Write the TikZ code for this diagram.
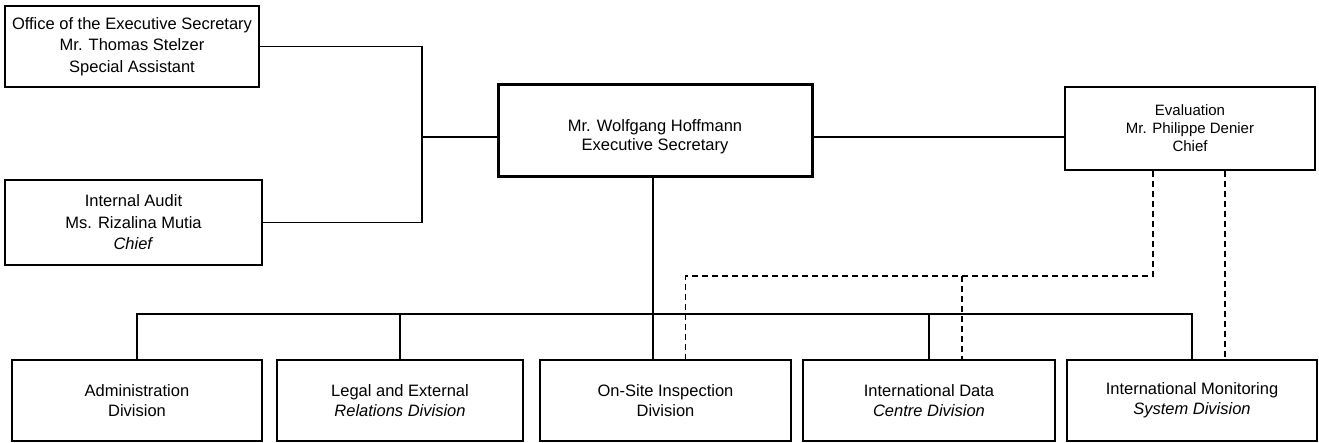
\documentclass[tikz,border=0pt]{standalone}
\usepackage{fontspec}
\setmainfont{Liberation Sans}
\usetikzlibrary{calc}
\tikzset{ b/.style = { rectangle % box
        , draw
        , line width = 2.2pt
        , align = center
        , inner sep = 0pt
        , font = \fontsize{16.5}{21.5}\selectfont
        }
        , bb/.style = { b % bottom row box
        , minimum height = 81pt
        , font = \fontsize{16.5}{20}\selectfont
        }
        , t/.style = { align = center % text only
        , inner sep = 0pt
        , font = \fontsize{16.5}{19}\selectfont
        }
        }

\begin{document}
\begin{tikzpicture}[x=1pt, y=-1pt,
        edge_style/.style={draw=black, line width=1.3pt},
        dashed_edge_style/.style={draw=black, line width=1.6pt, dash pattern=on 6pt off 4pt}]
        \useasboundingbox (0,0) rectangle (1319,443);

        \node [b, minimum width=254pt, minimum height=81pt](office) at (132,46.5) {Office of the Executive Secretary\\Mr. Thomas Stelzer\\Special Assistant};
        \node [b, minimum width=257pt, minimum height=85pt](audit) at (133.5,222.5) {Internal Audit\\Ms. Rizalina Mutia\\\textit{Chief}};
        \node [b, line width=3pt, minimum width=314pt, minimum height=92pt](es) at (655,131) {};
        \node [t](es_text) at ([yshift=-6pt]es.center) {Mr. Wolfgang Hoffmann\\Executive Secretary};
        \node [b, minimum width=250pt, minimum height=83pt, font=\fontsize{15}{18}\selectfont](ev) at (1190,128.5) {Evaluation\\Mr. Philippe Denier\\Chief};

        \node [bb, minimum width=250pt](adm) at (137,400.5) {Administration\\Division};
        \node [bb, minimum width=246pt](leg) at (400,400.5) {Legal and External\\\textit{Relations Division}};
        \node [bb, minimum width=251pt](osi) at (665.5,400.5) {On-Site Inspection\\Division};
        \node [bb, minimum width=252pt](idc) at (929,400.5) {International Data\\\textit{Centre Division}};
        \node [bb, minimum width=250pt](ims) at (1192,400.5) {International Monitoring\\\textit{System Division}};

        \coordinate (spine) at (422,137);
        \coordinate (bus) at (0,314);
        \coordinate (dbus) at (0,276);

        \draw [edge_style] (office.east) -| (spine) |- (audit.east);
        \draw [edge_style] (spine) -- (es.west |- spine);
        \draw [edge_style] (es.east |- spine) -- (ev.west |- spine);
        \draw [edge_style] ([xshift=-2pt]es.south) -- ([xshift=-2pt]es.south |- osi.north);
        \draw [edge_style] (adm.north) |- (ims.north |- bus) -- (ims.north);
        \foreach \n in {leg, idc}
            \draw [edge_style] (\n.north) -- (\n.north |- bus);

        \coordinate (evl) at ([xshift=-37pt]ev.south);
        \coordinate (evr) at ([xshift=35pt]ev.south);
        \coordinate (osid) at ([xshift=20pt]osi.north);
        \coordinate (idcd) at ([xshift=33pt]idc.north);
        \draw [dashed_edge_style] (evl) |- (osid |- dbus) -- (osid);
        \draw [dashed_edge_style] (idcd |- dbus) -- (idcd);
        \draw [dashed_edge_style] (evr) -- (evr |- ims.north);
\end{tikzpicture}
\end{document}
